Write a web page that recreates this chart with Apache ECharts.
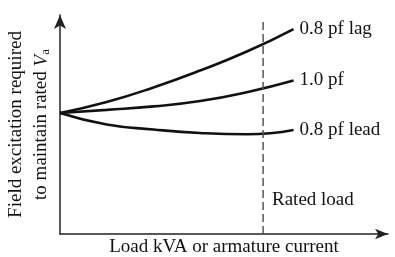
<!DOCTYPE html>
<html>
<head>
<meta charset="utf-8">
<script src="https://cdn.jsdelivr.net/npm/echarts@6/dist/echarts.min.js"></script>
<style>
    html, body { margin: 0; padding: 0; background: #fff; }
    #main { width: 395px; height: 257px; }
</style>
</head>
<body>
<div id="main"></div>
<script>
var main_chart = echarts.init(document.getElementById('main'));

// load in per unit of rated load (evenly spaced)
var load_pu = [0, 0.23, 0.46, 0.69, 0.92, 1.15];
// field excitation in per unit of the no-load value
var pf_lag = [1.0, 1.091, 1.211, 1.351, 1.508, 1.694];
var pf_unity = [1.0, 1.026, 1.055, 1.099, 1.172, 1.269];
var pf_lead = [1.0, 0.905, 0.864, 0.835, 0.824, 0.860];

var curve_names = ['0.8 pf lag', '1.0 pf', '0.8 pf lead'];
var rated_load = 1.0;
var rated_line_top = 1.77;

var x_max = 1.615;
var y_max = 1.81;
var font = 'Liberation Serif';

function pairs(xs, ys) {
    var out = [];
    for (var i = 0; i < xs.length; i++) {
        out.push([xs[i], ys[i]]);
    }
    return out;
}

function curve(name, ys) {
    return {
        name: name,
        type: 'line',
        smooth: 0.5,
        showSymbol: false,
        lineStyle: { color: '#111', width: 2.6 },
        endLabel: {
            show: true,
            formatter: '{a}',
            distance: 6,
            color: '#111',
            fontFamily: font,
            fontSize: 19
        },
        data: pairs(load_pu, ys)
    };
}

main_option = {
    backgroundColor: '#fff',
    animation: false,
    grid: {
        left: 60,
        right: 7,
        top: 15,
        bottom: 23,
        containLabel: false,
        outerBoundsMode: 'none'
    },
    xAxis: {
        type: 'value',
        min: 0,
        max: x_max,
        name: 'Load kVA or armature current',
        nameLocation: 'middle',
        nameGap: 4,
        nameTextStyle: { color: '#111', fontFamily: font, fontSize: 19, verticalAlign: 'top' },
        axisLine: {
            show: true,
            onZero: false,
            symbol: ['none', 'arrow'],
            symbolSize: [8, 13],
            lineStyle: { color: '#222', width: 1.5 }
        },
        axisTick: { show: false },
        axisLabel: { show: false },
        splitLine: { show: false }
    },
    yAxis: {
        type: 'value',
        min: 0,
        max: y_max,
        name: '{n|Field excitation required}\n{n|to maintain rated }{v|V}{s|a}',
        nameLocation: 'middle',
        nameRotate: 90,
        nameGap: 6,
        nameTextStyle: {
            color: '#111',
            fontFamily: font,
            fontSize: 19,
            lineHeight: 25,
            rich: {
                n: { fontFamily: font, fontSize: 19, lineHeight: 25, color: '#111' },
                v: { fontFamily: font, fontSize: 19, fontStyle: 'italic', lineHeight: 25, color: '#111' },
                s: { fontFamily: font, fontSize: 13, lineHeight: 25, color: '#111', padding: [8, 0, 0, 0] }
            }
        },
        axisLine: {
            show: true,
            onZero: false,
            symbol: ['none', 'arrow'],
            symbolSize: [9, 14],
            lineStyle: { color: '#222', width: 1.5 }
        },
        axisTick: { show: false },
        axisLabel: { show: false },
        splitLine: { show: false }
    },
    graphic: [
        {
            type: 'text',
            left: 272,
            top: 191,
            style: { text: 'Rated load', fill: '#111', font: '19px "Liberation Serif"' }
        }
    ],
    series: [
        curve(curve_names[0], pf_lag),
        curve(curve_names[1], pf_unity),
        curve(curve_names[2], pf_lead),
        {
            name: 'rated',
            type: 'line',
            showSymbol: false,
            lineStyle: { color: '#555', width: 1.5, type: [8, 4] },
            data: [[rated_load, 0], [rated_load, rated_line_top]]
        }
    ]
};

main_chart.setOption(main_option);
</script>
</body>
</html>
